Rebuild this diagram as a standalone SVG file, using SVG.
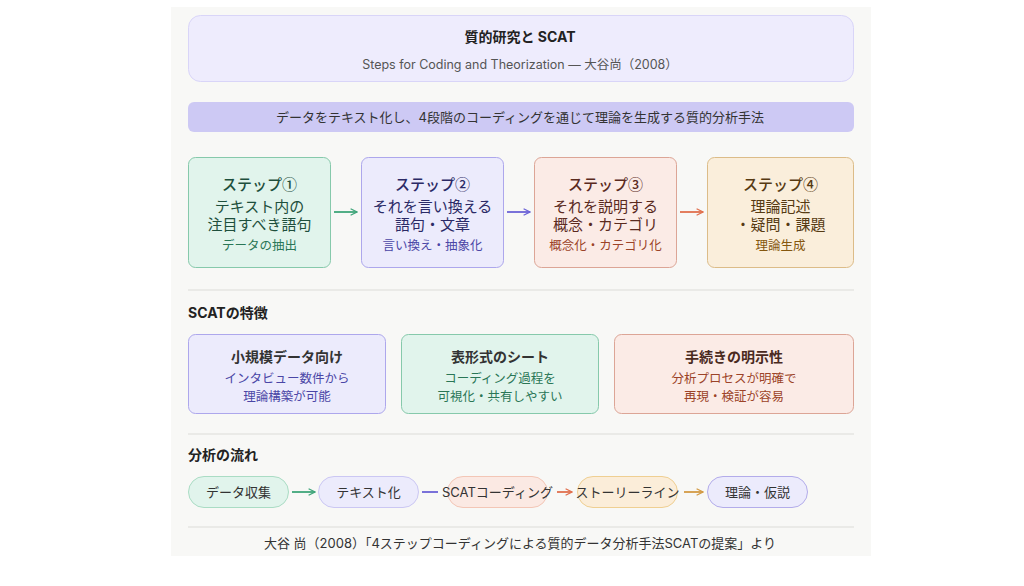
<svg xmlns="http://www.w3.org/2000/svg" width="1024" height="586" viewBox="0 0 1024 586">
<defs>
<style>
text{font-family:Inter,"Noto Sans CJK JP","Noto Sans",sans-serif;text-anchor:middle}
.cj{font-family:"Noto Sans CJK JP",sans-serif}
.h{font-size:14px;font-weight:700;fill:#222}
.sec{font-size:14px;font-weight:700;fill:#222;text-anchor:start}
.sub{font-size:12.5px;fill:#555}
.st{font-size:15px;font-weight:500}
.sl{font-size:15px}
.ss{font-size:12.5px}
.ft{font-size:14px;font-weight:700;fill:#333}
.fl{font-size:12.5px}
.pill{font-size:13px;fill:#333}
.sep{stroke:#e6e6e2;stroke-width:1.5}
.g{fill:#e1f4ec;stroke:#86c9ab}
.p{fill:#ecebfc;stroke:#ada7ec}
.o{fill:#fbebe6;stroke:#dca596}
.y{fill:#faeedb;stroke:#dcbc88}
</style>
<marker id="ag" viewBox="0 0 10 10" refX="9" refY="5" markerWidth="8" markerHeight="8" markerUnits="userSpaceOnUse" orient="auto"><path d="M1,1 L9,5 L1,9" fill="none" stroke="#3fa57a" stroke-width="1.6"/></marker>
<marker id="ap" viewBox="0 0 10 10" refX="9" refY="5" markerWidth="8" markerHeight="8" markerUnits="userSpaceOnUse" orient="auto"><path d="M1,1 L9,5 L1,9" fill="none" stroke="#6b63d6" stroke-width="1.6"/></marker>
<marker id="ao" viewBox="0 0 10 10" refX="9" refY="5" markerWidth="8" markerHeight="8" markerUnits="userSpaceOnUse" orient="auto"><path d="M1,1 L9,5 L1,9" fill="none" stroke="#e0704e" stroke-width="1.6"/></marker>
<marker id="ay" viewBox="0 0 10 10" refX="9" refY="5" markerWidth="8" markerHeight="8" markerUnits="userSpaceOnUse" orient="auto"><path d="M1,1 L9,5 L1,9" fill="none" stroke="#d39a45" stroke-width="1.6"/></marker>
</defs>
<rect width="1024" height="586" fill="#fff"/>
<rect x="171" y="7" width="700" height="549" fill="#f8f8f6"/>

<g id="header">
<rect x="188.5" y="15.5" width="665" height="66" rx="12" fill="#eeecfd" stroke="#d9d5f8"/>
<text class="h" x="520" y="42">質的研究と SCAT</text>
<text class="sub" x="520" y="69">Steps for Coding and Theorization — 大谷尚（2008）</text>
</g>
<g id="summary">
<rect x="188" y="102" width="666" height="30" rx="6" fill="#cdc9f4"/>
<text x="520" y="122" style="font-size:13px;fill:#333">データをテキスト化し、4段階のコーディングを通じて理論を生成する質的分析手法</text>
</g>

<g id="connectors">
<line x1="334" y1="212" x2="357" y2="212" stroke="#3fa57a" stroke-width="1.8" marker-end="url(#ag)"/>
<line x1="507" y1="212" x2="530" y2="212" stroke="#6b63d6" stroke-width="1.8" marker-end="url(#ap)"/>
<line x1="680" y1="212" x2="703" y2="212" stroke="#e0704e" stroke-width="1.8" marker-end="url(#ao)"/>
<line x1="292" y1="492" x2="315" y2="492" stroke="#3fa57a" stroke-width="1.8" marker-end="url(#ag)"/>
<line x1="422" y1="492" x2="438" y2="492" stroke="#6b63d6" stroke-width="1.8"/>
<line x1="557" y1="492" x2="572" y2="492" stroke="#e0704e" stroke-width="1.8" marker-end="url(#ao)"/>
<line x1="684" y1="492" x2="703" y2="492" stroke="#d39a45" stroke-width="1.8" marker-end="url(#ay)"/>
</g>

<g id="step1">
<rect class="g" x="188.5" y="157.5" width="142" height="110" rx="7"/>
<text class="st cj" x="259.5" y="190" fill="#1e4f3c">ステップ①</text>
<text class="sl" x="259.5" y="212" fill="#1e4f3c">テキスト内の</text>
<text class="sl" x="259.5" y="230" fill="#1e4f3c">注目すべき語句</text>
<text class="ss" x="259.5" y="250" fill="#2a7656">データの抽出</text>
</g>
<g id="step2">
<rect class="p" x="361.5" y="157.5" width="142" height="110" rx="7"/>
<text class="st cj" x="432.5" y="190" fill="#2b2a66">ステップ②</text>
<text class="sl" x="432.5" y="212" fill="#2b2a66">それを言い換える</text>
<text class="sl" x="432.5" y="230" fill="#2b2a66">語句・文章</text>
<text class="ss" x="432.5" y="250" fill="#4a46a6">言い換え・抽象化</text>
</g>
<g id="step3">
<rect class="o" x="534.5" y="157.5" width="142" height="110" rx="7"/>
<text class="st cj" x="605.5" y="190" fill="#5a2a1e">ステップ③</text>
<text class="sl" x="605.5" y="212" fill="#5a2a1e">それを説明する</text>
<text class="sl" x="605.5" y="230" fill="#5a2a1e">概念・カテゴリ</text>
<text class="ss" x="605.5" y="250" fill="#9c4328">概念化・カテゴリ化</text>
</g>
<g id="step4">
<rect class="y" x="707.5" y="157.5" width="146" height="110" rx="7"/>
<text class="st cj" x="780.5" y="190" fill="#563a12">ステップ④</text>
<text class="sl" x="780.5" y="212" fill="#563a12">理論記述</text>
<text class="sl" x="780.5" y="230" fill="#563a12">・疑問・課題</text>
<text class="ss" x="780.5" y="250" fill="#85570f">理論生成</text>
</g>

<line class="sep" x1="188" y1="290" x2="854" y2="290"/>
<text class="sec" x="188" y="318">SCATの特徴</text>

<g id="feature1">
<rect class="p" x="188.5" y="334.5" width="197" height="79" rx="7"/>
<text class="ft" x="287" y="362">小規模データ向け</text>
<text class="fl" x="287" y="383" fill="#4a46a6">インタビュー数件から</text>
<text class="fl" x="287" y="401" fill="#4a46a6">理論構築が可能</text>
</g>
<g id="feature2">
<rect class="g" x="401.5" y="334.5" width="197" height="79" rx="7"/>
<text class="ft" x="500" y="362">表形式のシート</text>
<text class="fl" x="500" y="383" fill="#2a7656">コーディング過程を</text>
<text class="fl" x="500" y="401" fill="#2a7656">可視化・共有しやすい</text>
</g>
<g id="feature3">
<rect class="o" x="614.5" y="334.5" width="239" height="79" rx="7"/>
<text class="ft" x="734" y="362" style="fill:#4a2a1e">手続きの明示性</text>
<text class="fl" x="734" y="383" fill="#9c4328">分析プロセスが明確で</text>
<text class="fl" x="734" y="401" fill="#9c4328">再現・検証が容易</text>
</g>

<line class="sep" x1="188" y1="434" x2="854" y2="434"/>
<text class="sec" x="188" y="460">分析の流れ</text>

<g id="flow1">
<rect x="188.5" y="476.5" width="100" height="31" rx="15.5" fill="#e1f4ec" stroke="#aadcc4"/>
<text class="pill" x="238.5" y="497">データ収集</text>
</g>
<g id="flow2">
<rect x="318.5" y="476.5" width="100" height="31" rx="15.5" fill="#ecebfc" stroke="#cbc7f3"/>
<text class="pill" x="368.5" y="497">テキスト化</text>
</g>
<g id="flow3">
<rect x="447.5" y="476.5" width="100" height="31" rx="15.5" fill="#fbe9e3" stroke="#f3c6b6"/>
<text class="pill" x="497.5" y="497">SCATコーディング</text>
</g>
<g id="flow4">
<rect x="577.5" y="476.5" width="100" height="31" rx="15.5" fill="#fbedd9" stroke="#efcf92"/>
<text class="pill" x="627.5" y="497">ストーリーライン</text>
</g>
<g id="flow5">
<rect x="707.5" y="476.5" width="100" height="31" rx="15.5" fill="#ecebfc" stroke="#b3acea"/>
<text class="pill" x="757.5" y="497">理論・仮説</text>
</g>

<line class="sep" x1="188" y1="527" x2="854" y2="527"/>
<text x="520" y="548" style="font-size:13px;fill:#333">大谷 尚（2008）「4ステップコーディングによる質的データ分析手法SCATの提案」より</text>
</svg>
